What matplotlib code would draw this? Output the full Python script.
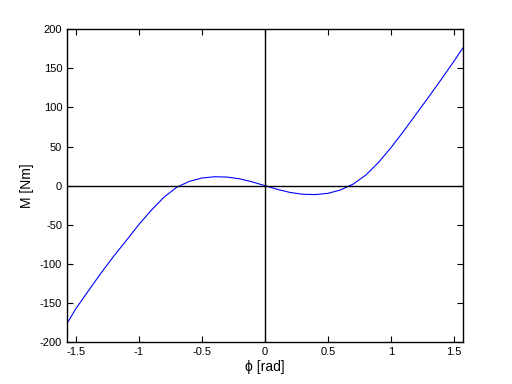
import numpy as np
import matplotlib
matplotlib.use('Agg')
from matplotlib import pyplot as plt

# values
phi = [-1.5708, -1.5, -1.4, -1.3, -1.2, -1.1, -1.0, -0.9, -0.8, -0.7, -0.6,
       -0.5, -0.4, -0.3, -0.2, -0.1, 0.0, 0.1, 0.2, 0.3, 0.4, 0.5, 0.6,
       0.7, 0.8, 0.9, 1.0, 1.1, 1.2, 1.3, 1.4, 1.5, 1.5708]
moment = [-176, -157, -134, -111.5, -90, -70, -49.5, -31, -14.5, -2, 5.5,
          9.8, 11.4, 11, 8.7, 4.8, 0, -4.8, -8.7, -11, -11.4, -9.8, -5.5,
          2, 13.5, 29.5, 48.5, 69.5, 91.5, 113.5, 136, 159, 176]
x_ticks = [-1.5, -1, -0.5, 0, 0.5, 1, 1.5]
x_tick_labels = ['-1.5', '-1', '-0.5', '0', '0.5', '1', '1.5']
y_ticks = [-200, -150, -100, -50, 0, 50, 100, 150, 200]

plt.rcParams['font.family'] = ['Liberation Sans', 'DejaVu Sans']
plt.rcParams['axes.unicode_minus'] = False

fig = plt.figure(figsize=(5.12, 3.84), dpi=100)
ax = fig.add_axes([0.131, 0.109, 0.773, 0.815])
ax.plot(phi, moment, color='blue', linewidth=0.8)
ax.axhline(0, color='black', linewidth=1.0)
ax.axvline(0, color='black', linewidth=1.0)

ax.set_xlim(-np.pi / 2, np.pi / 2)
ax.set_ylim(-200, 200)
ax.set_xticks(x_ticks)
ax.set_xticklabels(x_tick_labels)
ax.set_yticks(y_ticks)
ax.tick_params(direction='in', top=True, right=True, labelsize=8, length=4, width=0.8)
for s in ax.spines.values():
    s.set_linewidth(1.0)
ax.set_xlabel('\u03d5 [rad]', fontsize=10, labelpad=2)
ax.set_ylabel('M [Nm]', fontsize=10, labelpad=4)

fig.savefig('out.png', dpi=100, facecolor='white')
